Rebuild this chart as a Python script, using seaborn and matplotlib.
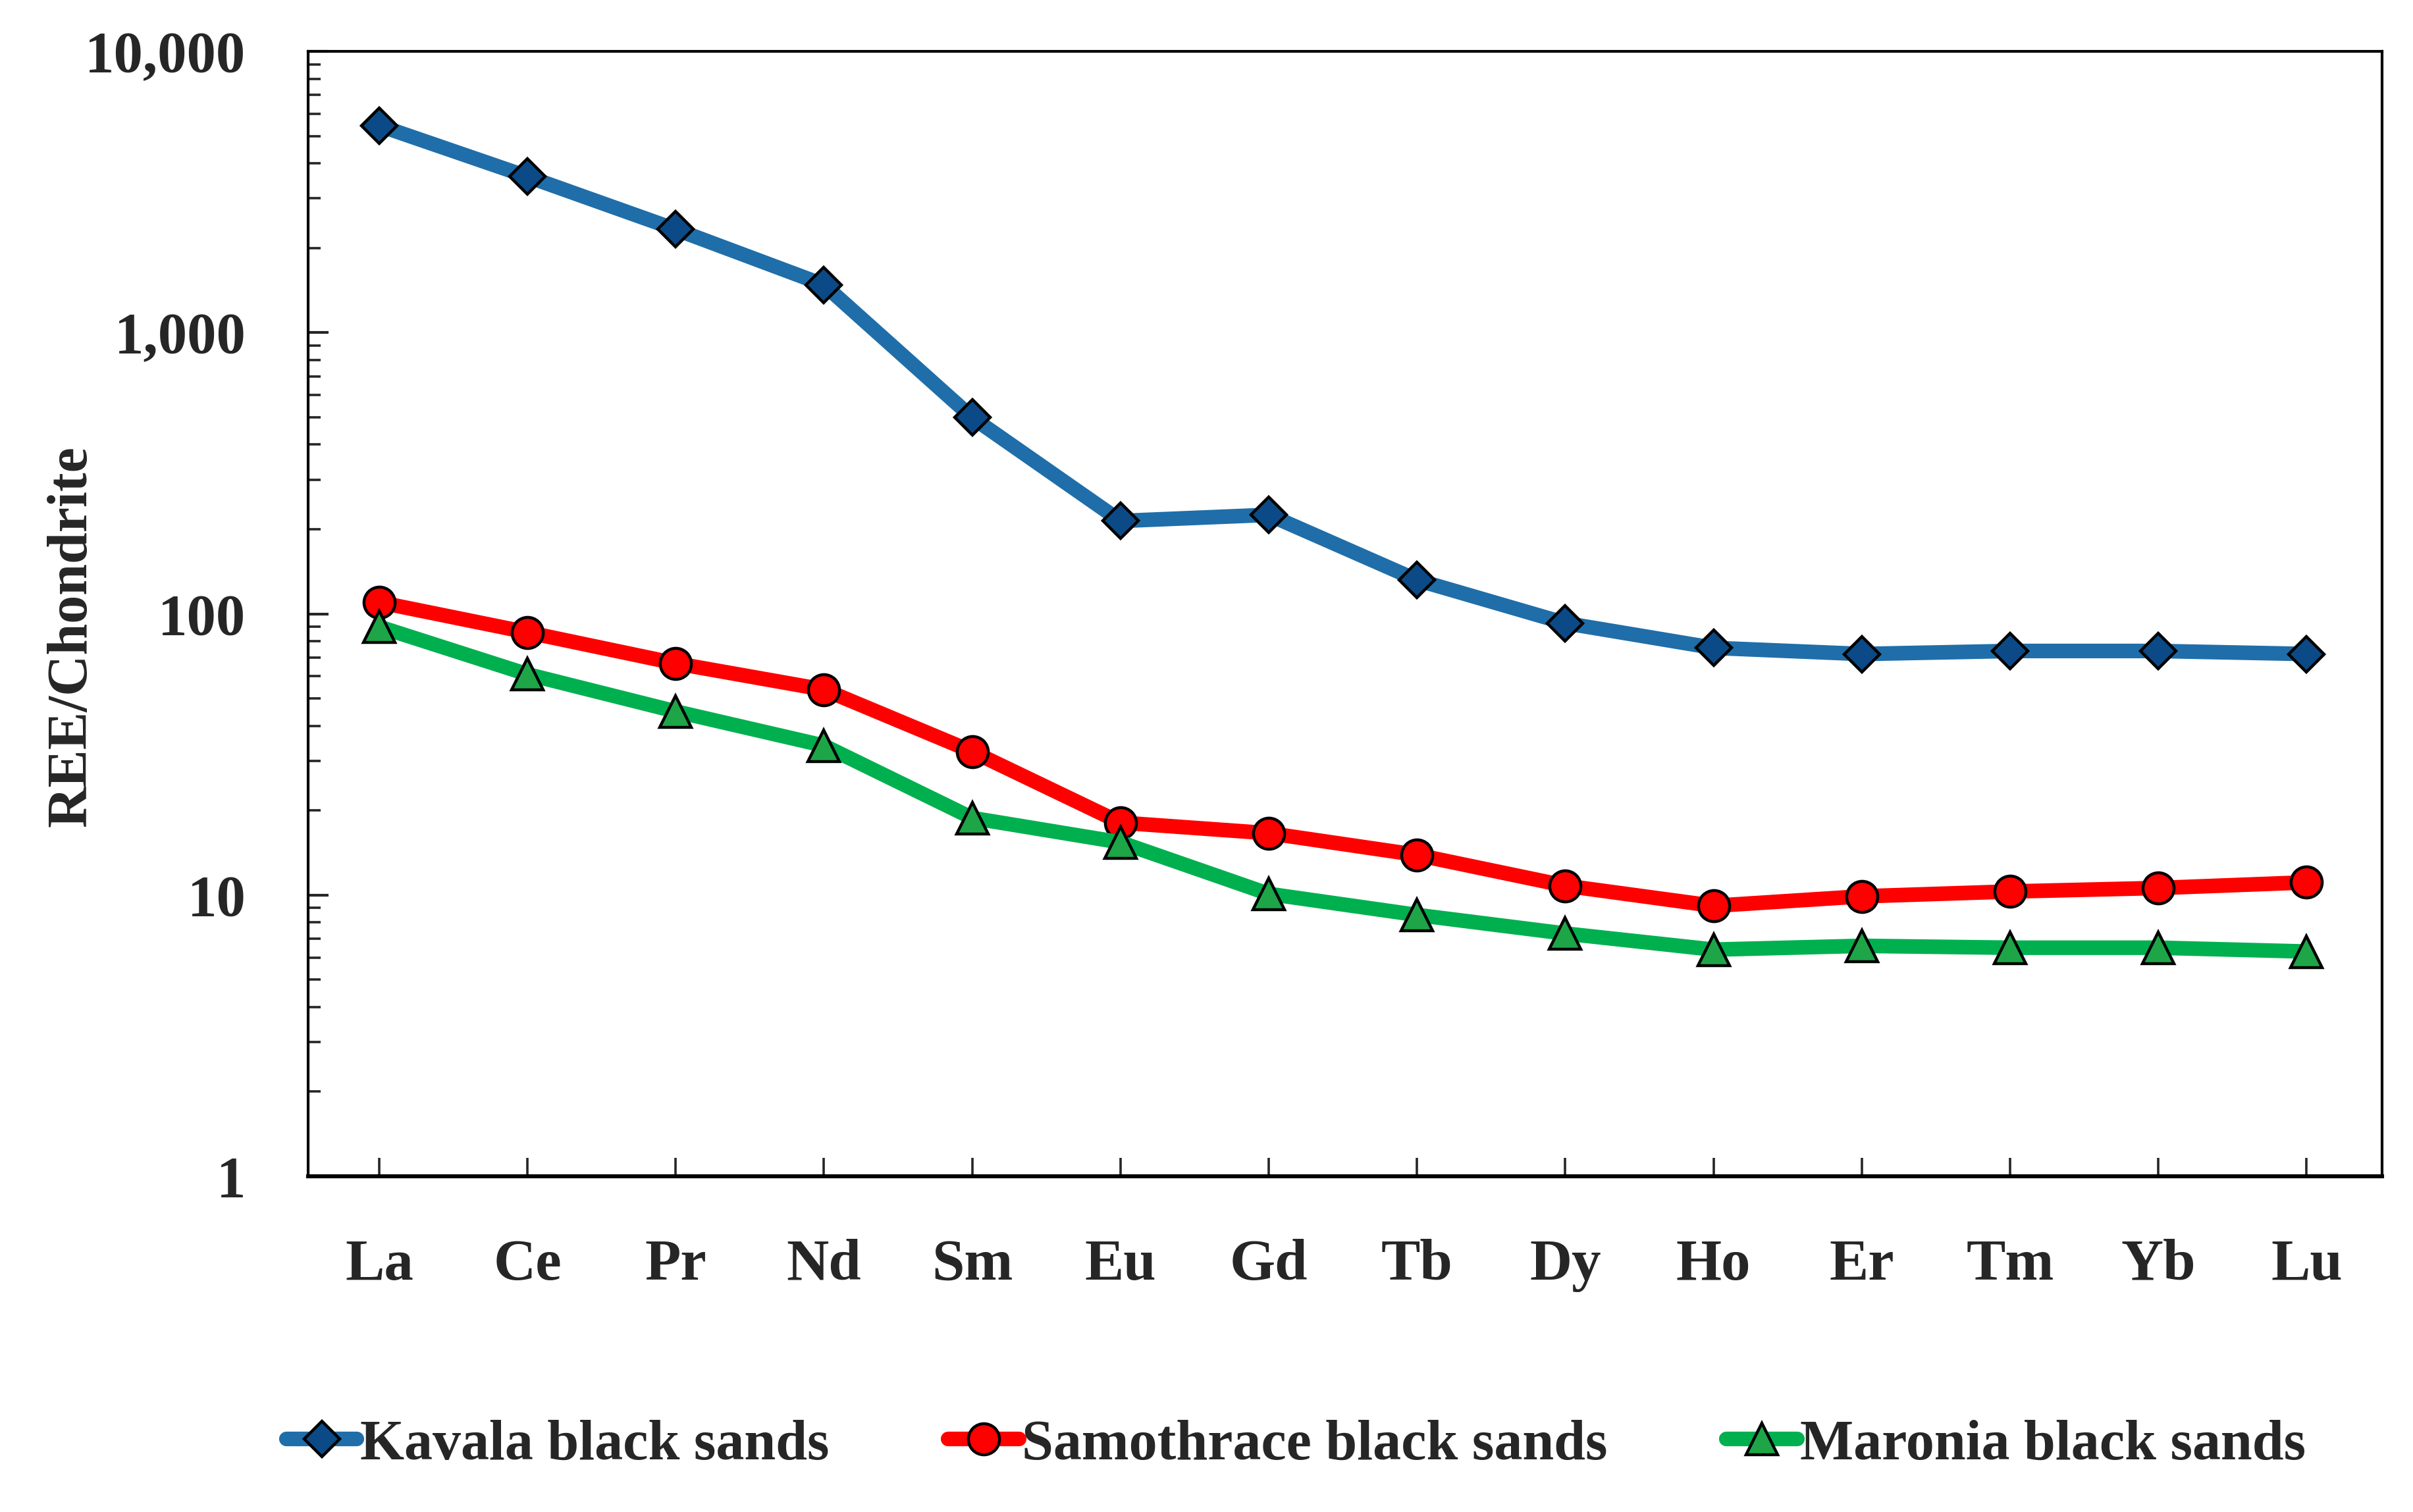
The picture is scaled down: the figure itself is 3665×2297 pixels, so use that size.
import numpy as np
import pandas as pd
import matplotlib
matplotlib.use("Agg")
import matplotlib.pyplot as plt
import matplotlib.ticker as mticker
from matplotlib.lines import Line2D
from matplotlib.font_manager import FontProperties
import seaborn as sns

# ── Data ─────────────────────────────────────────────────────
elements = ['La', 'Ce', 'Pr', 'Nd', 'Sm', 'Eu', 'Gd', 'Tb', 'Dy', 'Ho', 'Er', 'Tm', 'Yb', 'Lu']
kavala     = [5450, 3590, 2330, 1480, 499, 214, 225, 132, 92.7, 75.7, 72.0, 73.8, 73.8, 72.0]
samothrace = [110, 86, 66.7, 53.8, 32.4, 18.1, 16.6, 13.9, 10.8, 9.16, 9.9, 10.3, 10.6, 11.1]
maronia    = [90, 61, 45, 34, 18.8, 15.4, 10.1, 8.5, 7.3, 6.4, 6.6, 6.5, 6.5, 6.3]

series_names = ['Kavala black sands', 'Samothrace black sands', 'Maronia black sands']

# ── Style ────────────────────────────────────────────────────
sns.set_theme(style='white')
serif = ['Liberation Serif', 'DejaVu Serif']
plt.rcParams['font.family'] = serif
plt.rcParams['font.weight'] = 'bold'

styles = {
    'Kavala black sands':     dict(line='#1f6ea9', face='#0b4a86', marker='D', ms=14),
    'Samothrace black sands': dict(line='#ff0000', face='#ff0000', marker='o', ms=17),
    'Maronia black sands':    dict(line='#00b04f', face='#1ea548', marker='^', ms=17),
}

df = pd.DataFrame({
    'Element': elements * 3,
    'Value': kavala + samothrace + maronia,
    'Series': np.repeat(series_names, len(elements)),
})

fig = plt.figure(figsize=(18.33, 11.485), dpi=200)
ax = fig.add_axes([0.1276, 0.222, 0.8594, 0.744])

for name in series_names:
    st = styles[name]
    sub = df[df['Series'] == name]
    sns.lineplot(data=sub, x='Element', y='Value', ax=ax, sort=False,
                 color=st['line'], linewidth=8, marker=st['marker'],
                 markersize=st['ms'], markerfacecolor=st['face'],
                 markeredgecolor='black', markeredgewidth=1.6, zorder=3)

ax.set_yscale('log')
ax.set_ylim(1, 10000)
ax.set_xlim(-0.48, len(elements) - 0.49)
ax.yaxis.set_major_locator(mticker.LogLocator(base=10, numticks=10))
ax.yaxis.set_minor_locator(mticker.LogLocator(base=10, subs=np.arange(2, 10), numticks=10))
ax.yaxis.set_major_formatter(mticker.FuncFormatter(lambda v, p: f'{v:,.0f}'))
ax.yaxis.set_minor_formatter(mticker.NullFormatter())

ax.set_xlabel('')
ax.set_ylabel('REE/Chondrite', fontsize=31, fontweight='bold', family=serif)
ax.yaxis.set_label_coords(-0.101, 0.48)

ax.tick_params(axis='y', which='major', direction='in', length=11, width=1.5,
               labelsize=32, pad=34, left=True)
ax.tick_params(axis='y', which='minor', direction='in', length=7, width=1.3, left=True)
ax.tick_params(axis='x', which='major', direction='in', length=10, width=1.3,
               labelsize=32, pad=34, bottom=True)
for lab in ax.get_xticklabels() + ax.get_yticklabels():
    lab.set_fontweight('bold')
    lab.set_family(serif)

for side in ['top', 'right', 'left', 'bottom']:
    ax.spines[side].set_color('black')
    ax.spines[side].set_linewidth(1.5)
ax.spines['bottom'].set_linewidth(2.2)
ax.grid(False)

# ── Legend ───────────────────────────────────────────────────
handles = [Line2D([0], [0], color=styles[n]['line'], linewidth=8,
                  marker=styles[n]['marker'], markersize=styles[n]['ms'],
                  markerfacecolor=styles[n]['face'], markeredgecolor='black',
                  markeredgewidth=1.6) for n in series_names]
legend_font = FontProperties(family='Liberation Serif', weight='bold', size=31)
leg = fig.legend(handles, series_names, loc='center', bbox_to_anchor=(0.537, 0.044),
                 ncol=3, frameon=False, handlelength=1.25, handletextpad=0.05,
                 columnspacing=2.1, prop=legend_font)

plt.savefig('out.png', dpi=200)
plt.close()
